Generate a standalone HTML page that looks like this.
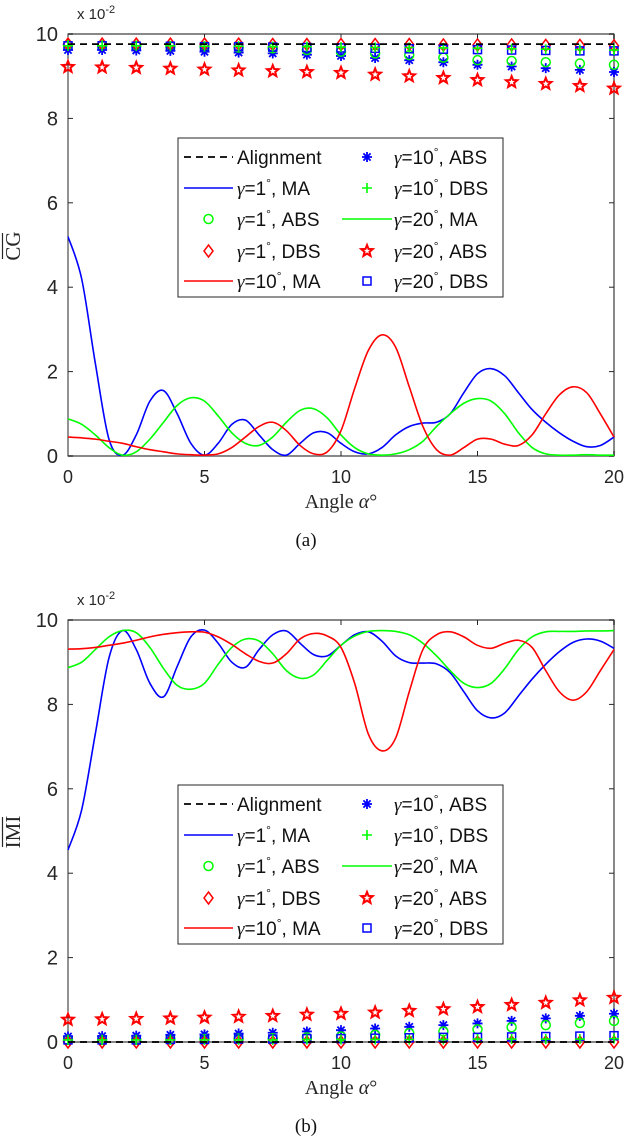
<!DOCTYPE html>
<html><head><meta charset="utf-8"><style>
html,body{margin:0;padding:0;background:#fff;}
svg{display:block;}
text{font-family:"Liberation Sans",sans-serif;}
.serif{font-family:"Liberation Serif",serif;}
</style></head><body>
<svg id="fig" width="624" height="1144" viewBox="0 0 624 1144" xmlns="http://www.w3.org/2000/svg"></svg>
<script>
// ---- data: angle grid for lines ----
const lineAlpha = [0,0.5,1,1.5,2,2.5,3,3.5,4,4.5,5,5.5,6,6.5,7,7.5,8,8.5,9,9.5,10,10.5,11,11.5,12,12.5,13,13.5,14,14.5,15,15.5,16,16.5,17,17.5,18,18.5,19,19.5,20];
const markerAlpha = [0,1.25,2.5,3.75,5,6.25,7.5,8.75,10,11.25,12.5,13.75,15,16.25,17.5,18.75,20];
const xTicks = [0,5,10,15,20];
const yTickLabels = [0,2,4,6,8,10];

// ---- panel (a) CG ----
const cgAlign = 9.76;
const cgBlueMA = [5.2,4.2,2.2,0.4,0.02,0.5,1.3,1.55,1.0,0.3,0.02,0.3,0.75,0.85,0.5,0.15,0.02,0.3,0.55,0.55,0.3,0.1,0.05,0.2,0.5,0.7,0.78,0.8,1.0,1.5,1.95,2.07,1.9,1.5,1.1,0.8,0.55,0.35,0.22,0.25,0.45];
const cgRedMA = [0.45,0.43,0.4,0.35,0.3,0.22,0.15,0.1,0.05,0.03,0.02,0.05,0.2,0.45,0.7,0.8,0.6,0.25,0.05,0.1,0.6,1.6,2.5,2.87,2.58,1.64,0.7,0.15,0.02,0.2,0.4,0.4,0.28,0.25,0.5,1.0,1.45,1.64,1.5,1.0,0.45];
const cgGreenMA = [0.88,0.75,0.5,0.2,0.02,0.1,0.4,0.8,1.2,1.38,1.3,0.95,0.55,0.3,0.25,0.45,0.8,1.08,1.12,0.9,0.5,0.2,0.05,0.02,0.05,0.15,0.35,0.7,1.0,1.25,1.36,1.3,1.0,0.55,0.2,0.05,0.02,0.02,0.03,0.02,0.02];
const cgG1ABS = [9.74,9.73,9.72,9.71,9.7,9.68,9.66,9.62,9.58,9.54,9.5,9.44,9.38,9.36,9.33,9.3,9.27];
const cgG1DBS = [9.76,9.76,9.76,9.76,9.76,9.76,9.75,9.75,9.75,9.75,9.75,9.74,9.74,9.74,9.73,9.73,9.72];
const cgG10ABS = [9.62,9.62,9.61,9.6,9.58,9.56,9.54,9.51,9.48,9.43,9.38,9.33,9.27,9.23,9.19,9.15,9.1];
const cgG10DBS = [9.72,9.72,9.72,9.72,9.71,9.71,9.7,9.7,9.69,9.68,9.68,9.67,9.66,9.65,9.64,9.63,9.62];
const cgG20ABS = [9.22,9.21,9.2,9.18,9.16,9.14,9.12,9.1,9.08,9.04,9.0,8.96,8.91,8.86,8.82,8.77,8.71];
const cgG20DBS = [9.72,9.72,9.71,9.71,9.7,9.7,9.69,9.68,9.67,9.66,9.65,9.64,9.63,9.62,9.61,9.6,9.6];

// ---- panel (b) IMI ----
const imAlign = 0.0;
const imBlueMA = [4.55,5.5,7.3,9.1,9.75,9.3,8.5,8.18,8.9,9.6,9.76,9.45,9.0,8.88,9.3,9.65,9.74,9.45,9.18,9.15,9.4,9.65,9.72,9.5,9.15,8.99,8.98,8.96,8.75,8.3,7.85,7.68,7.8,8.2,8.6,8.95,9.25,9.47,9.55,9.5,9.33];
const imRedMA = [9.31,9.32,9.35,9.4,9.45,9.52,9.6,9.66,9.7,9.72,9.71,9.6,9.42,9.2,9.02,8.98,9.2,9.55,9.68,9.62,9.35,8.5,7.3,6.9,7.2,8.3,9.3,9.65,9.72,9.6,9.4,9.33,9.45,9.52,9.35,8.8,8.3,8.1,8.3,8.8,9.3];
const imGreenMA = [8.87,9.0,9.3,9.6,9.75,9.7,9.35,8.85,8.45,8.36,8.5,8.95,9.35,9.55,9.5,9.2,8.8,8.62,8.7,9.05,9.4,9.62,9.73,9.75,9.73,9.65,9.45,9.15,8.8,8.5,8.4,8.5,8.85,9.3,9.6,9.72,9.73,9.73,9.74,9.74,9.75];
const imG1ABS = [0.05,0.05,0.05,0.06,0.07,0.08,0.09,0.11,0.13,0.17,0.21,0.25,0.3,0.35,0.4,0.45,0.5];
const imG1DBS = [0,0,0,0,0,0,0,0,0,0,0,0,0,0,0,0,0];
const imG10ABS = [0.13,0.14,0.15,0.17,0.18,0.2,0.22,0.25,0.28,0.32,0.36,0.4,0.44,0.5,0.56,0.62,0.67];
const imG10DBS = [0.05,0.05,0.05,0.05,0.05,0.05,0.05,0.06,0.06,0.06,0.06,0.06,0.07,0.07,0.07,0.07,0.08];
const imG20ABS = [0.53,0.54,0.55,0.56,0.58,0.6,0.62,0.65,0.67,0.7,0.74,0.78,0.83,0.88,0.93,0.99,1.05];
const imG20DBS = [0.05,0.05,0.05,0.06,0.06,0.07,0.07,0.08,0.08,0.09,0.1,0.11,0.11,0.12,0.13,0.14,0.15];

const NS = "http://www.w3.org/2000/svg";
const svg = document.getElementById('fig');
function mk(tag, attrs, parent){
  const e = document.createElementNS(NS, tag);
  for (const k in attrs) e.setAttribute(k, attrs[k]);
  (parent||svg).appendChild(e);
  return e;
}
const X0 = 68, X1 = 614;
function xs(a){ return X0 + (a/20)*(X1-X0); }

function smoothPath(pts){
  let d = 'M'+pts[0][0].toFixed(2)+','+pts[0][1].toFixed(2);
  for (let i=0;i<pts.length-1;i++){
    const p0=pts[Math.max(0,i-1)], p1=pts[i], p2=pts[i+1], p3=pts[Math.min(pts.length-1,i+2)];
    const c1x=p1[0]+(p2[0]-p0[0])/6, c1y=p1[1]+(p2[1]-p0[1])/6;
    const c2x=p2[0]-(p3[0]-p1[0])/6, c2y=p2[1]-(p3[1]-p1[1])/6;
    d+=' C'+c1x.toFixed(2)+','+c1y.toFixed(2)+' '+c2x.toFixed(2)+','+c2y.toFixed(2)+' '+p2[0].toFixed(2)+','+p2[1].toFixed(2);
  }
  return d;
}

function marker(g, type, x, y){
  let e;
  if (type==='circle'){ e = mk('circle',{cx:x,cy:y,r:4.5,fill:'none',stroke:'#00ff00','stroke-width':1.5},g); }
  else if (type==='diamond'){ e = mk('path',{d:`M${x},${y-6} L${x+4.5},${y} L${x},${y+6} L${x-4.5},${y} Z`,fill:'none',stroke:'#ff0000','stroke-width':1.5},g); }
  else if (type==='square'){ e = mk('rect',{x:x-4,y:y-4,width:8,height:8,fill:'none',stroke:'#0000ff','stroke-width':1.5},g); }
  else if (type==='plus'){ e = mk('path',{d:`M${x-5},${y} H${x+5} M${x},${y-5} V${y+5}`,stroke:'#00ff00','stroke-width':1.6,fill:'none'},g); }
  else if (type==='asterisk'){ e = mk('path',{d:`M${x-5},${y} H${x+5} M${x},${y-5} V${y+5} M${x-3.6},${y-3.6} L${x+3.6},${y+3.6} M${x-3.6},${y+3.6} L${x+3.6},${y-3.6}`,stroke:'#0000ff','stroke-width':1.8,fill:'none'},g); }
  else if (type==='star'){
    let d=''; const R=6,r=2.6;
    for(let i=0;i<10;i++){ const ang=-Math.PI/2+i*Math.PI/5; const rr=i%2?r:R; d+=(i?'L':'M')+(x+rr*Math.cos(ang)).toFixed(2)+','+(y+rr*Math.sin(ang)).toFixed(2); }
    e = mk('path',{d:d+'Z',fill:'none',stroke:'#ff0000','stroke-width':2},g);
  }
  return e;
}

function panel(cfg){
  const Y10 = cfg.top, Y0 = cfg.top + 422;
  const ys = v => Y0 - (v/10)*(Y0-Y10);
  const g = mk('g',{});
  
  
  const fr = mk('rect',{x:X0,y:Y10,width:X1-X0,height:Y0-Y10,fill:'#fff',stroke:'#262626','stroke-width':1},g);
  
  
  mk('line',{x1:X0,y1:Y0,x2:X1,y2:Y0,stroke:'#888','stroke-width':2},g);
  mk('line',{x1:X0,y1:Y10,x2:X1,y2:Y10,stroke:'#888','stroke-width':2},g);
  mk('line',{x1:X1,y1:Y10,x2:X1,y2:Y0,stroke:'#888','stroke-width':2},g);
  xTicks.forEach(t=>{
    const x = xs(t);
    mk('line',{x1:x,y1:Y0,x2:x,y2:Y0-5,stroke:'#262626'},g);
    mk('line',{x1:x,y1:Y10,x2:x,y2:Y10+5,stroke:'#262626'},g);
    const tl = mk('text',{x:x,y:Y0+27,'font-size':18,'text-anchor':'middle',fill:'#262626'},g);
    tl.textContent = t;
    
    
  });
  yTickLabels.forEach(t=>{
    const y = ys(t);
    mk('line',{x1:X0,y1:y,x2:X0+5,y2:y,stroke:'#262626'},g);
    mk('line',{x1:X1,y1:y,x2:X1-5,y2:y,stroke:'#262626'},g);
    const tl = mk('text',{x:58,y:y+7,'font-size':20,'text-anchor':'end',fill:'#262626'},g);
    tl.textContent = t;
    
    
  });
  const ex = mk('text',{x:77,y:Y10-15,'font-size':15,fill:'#262626'},g);
  ex.innerHTML = 'x 10<tspan dy="-6" font-size="11">-2</tspan>';
  
  
  const lines = [[cfg.blue,'#0000ff','gamma1-ma-line'],[cfg.green,'#00ff00','gamma20-ma-line'],[cfg.red,'#ff0000','gamma10-ma-line']];
  lines.forEach(([arr,col,nm])=>{
    const pts = arr.map((v,i)=>[xs(lineAlpha[i]), ys(v)]);
    const p = mk('path',{d:smoothPath(pts),fill:'none',stroke:col,'stroke-width':1.6},g);
    
    
  });
  const mset = [[cfg.g20abs,'star','gamma20-abs'],[cfg.g10abs,'asterisk','gamma10-abs'],[cfg.g1abs,'circle','gamma1-abs'],[cfg.g1dbs,'diamond','gamma1-dbs'],[cfg.g20dbs,'square','gamma20-dbs'],[cfg.g10dbs,'plus','gamma10-dbs']];
  mset.forEach(([arr,type,nm])=>{
    const mg = mk('g',{},g);
    
    
    arr.forEach((v,i)=>{ marker(mg,type,xs(markerAlpha[i]),ys(v)); });
  });
  const al = mk('line',{x1:X0,y1:ys(cfg.align),x2:X1,y2:ys(cfg.align),stroke:'#000','stroke-width':1.8,'stroke-dasharray':'7,5'},g);
  
  
  const xl = mk('text',{x:341,y:Y0+52,'font-size':20,'text-anchor':'middle',fill:'#262626',class:'serif'},g);
  xl.innerHTML = 'Angle <tspan font-style="italic">α</tspan>°';
  
  
  const ycx = 20, ycy = (Y10+Y0)/2 + 1;
  const yl = mk('text',{x:ycx,y:ycy,'font-size':21,'text-anchor':'middle',fill:'#262626',class:'serif',transform:`rotate(-90 ${ycx} ${ycy})`},g);
  yl.textContent = cfg.ylabel;
  
  
  const ov = mk('line',{x1:2.5,y1:ycy-cfg.ovl,x2:2.5,y2:ycy+cfg.ovl,stroke:'#262626','stroke-width':1.2},g);
  
  
  const cap = mk('text',{x:306,y:Y0+90,'font-size':19,'text-anchor':'middle',fill:'#111',class:'serif'},g);
  cap.textContent = cfg.caption;
  
  
  const L = cfg.legTop;
  const lg = mk('g',{},g);
  
  
  mk('rect',{x:178,y:L,width:325,height:159,fill:'#fff',stroke:'#262626','stroke-width':1},lg);
  const rows = [19,50,81,113,143];
  const col1 = [['dash','Alignment'],['line#0000ff','γ=1°, MA'],['circle','γ=1°, ABS'],['diamond','γ=1°, DBS'],['line#ff0000','γ=10°, MA']];
  const col2 = [['asterisk','γ=10°, ABS'],['plus','γ=10°, DBS'],['line#00ff00','γ=20°, MA'],['star','γ=20°, ABS'],['square','γ=20°, DBS']];
  function entry(item,row,lx0,lx1,tx){
    const y = L+rows[row];
    const eg = mk('g',{},lg);
    
    
    const [k,label] = item;
    if (k==='dash') mk('line',{x1:lx0,y1:y,x2:lx1,y2:y,stroke:'#000','stroke-width':1.8,'stroke-dasharray':'7,5'},eg);
    else if (k.startsWith('line')) mk('line',{x1:lx0,y1:y,x2:lx1,y2:y,stroke:k.slice(4),'stroke-width':1.6},eg);
    else marker(eg,k,(lx0+lx1)/2,y);
    const t = mk('text',{x:tx,y:y+7,'font-size':19,fill:'#111'},eg);
    if (label==='Alignment') t.textContent = label;
    else {
      const m = label.match(/γ=(\d+)°, (\w+)/);
      t.innerHTML = `<tspan class="serif" font-style="italic">γ</tspan>=${m[1]}<tspan dy="-8" font-size="12">°</tspan><tspan dy="8">, ${m[2]}</tspan>`;
    }
  }
  col1.forEach((it,i)=>entry(it,i,184,233,237));
  col2.forEach((it,i)=>entry(it,i,342,392,394));
}

panel({name:'panel-a-cg',top:34,legTop:138,ylabel:'CG',ovl:13,caption:'(a)',align:cgAlign,blue:cgBlueMA,red:cgRedMA,green:cgGreenMA,
  g1abs:cgG1ABS,g1dbs:cgG1DBS,g10abs:cgG10ABS,g10dbs:cgG10DBS,g20abs:cgG20ABS,g20dbs:cgG20DBS});
panel({name:'panel-b-imi',top:620,legTop:785,ylabel:'IMI',ovl:15,caption:'(b)',align:imAlign,blue:imBlueMA,red:imRedMA,green:imGreenMA,
  g1abs:imG1ABS,g1dbs:imG1DBS,g10abs:imG10ABS,g10dbs:imG10DBS,g20abs:imG20ABS,g20dbs:imG20DBS});
</script>
</body></html>
